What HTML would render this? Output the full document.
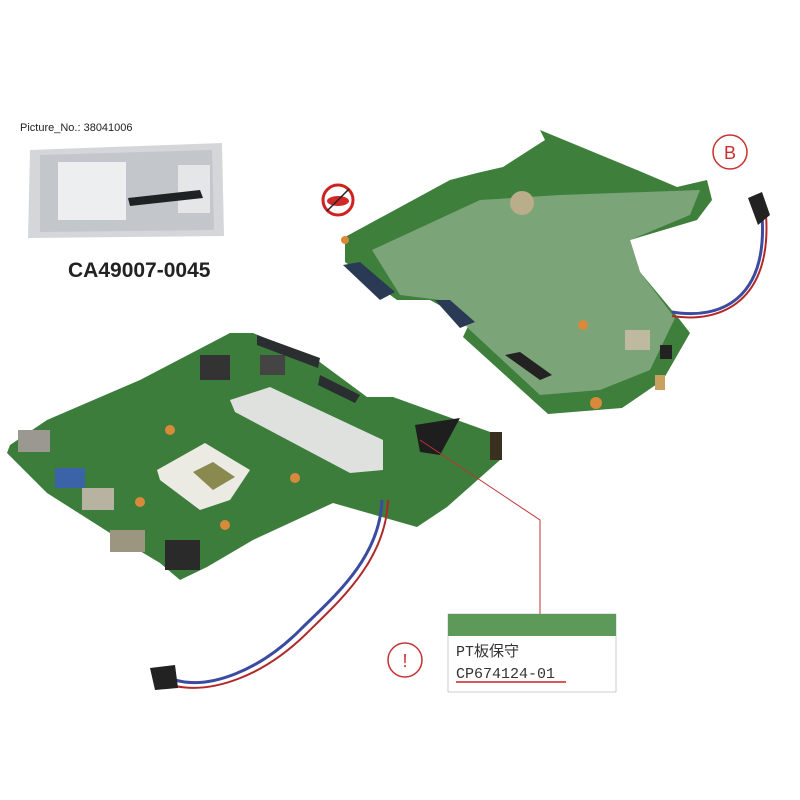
<!DOCTYPE html>
<html><head><meta charset="utf-8"><style>
html,body{margin:0;padding:0;background:#fff;width:800px;height:800px;overflow:hidden}
svg{display:block}
</style></head><body>
<svg width="800" height="800" viewBox="0 0 800 800" xmlns="http://www.w3.org/2000/svg">
<rect width="800" height="800" fill="#fff"/>
<text x="20" y="131" font-family="Liberation Sans, sans-serif" font-size="11" fill="#222">Picture_No.: 38041006</text>
<!-- bag -->
<path d="M30,150 L222,143 L224,236 L28,238 Z" fill="#d4d6d9"/>
<path d="M40,155 L212,150 L214,230 L40,232 Z" fill="#c3c6ca"/>
<rect x="58" y="162" width="68" height="58" fill="#eceef0"/>
<rect x="178" y="165" width="32" height="48" fill="#e4e6e8"/>
<path d="M128,198 L200,190 L203,198 L130,206 Z" fill="#1e2224"/>
<text x="68" y="277" font-family="Liberation Sans, sans-serif" font-size="21" font-weight="bold" fill="#222">CA49007-0045</text>
<!-- no sign -->
<circle cx="338" cy="200" r="15" fill="none" stroke="#d02020" stroke-width="3"/>
<ellipse cx="338" cy="201" rx="11" ry="5" fill="#d02828"/>
<line x1="327" y1="211" x2="349" y2="189" stroke="#222" stroke-width="1.5"/>
<!-- B circle -->
<circle cx="730" cy="152" r="17" fill="none" stroke="#c83030" stroke-width="1.5"/>
<text x="730" y="159" text-anchor="middle" font-family="Liberation Sans, sans-serif" font-size="18" fill="#c83030">B</text>
<!-- top board -->
<path d="M540,130 L637,170 L677,187 L707,180 L712,200 L697,220 L630,240 L640,272 L680,320 L690,333 L663,380 L622,408 L548,414 L463,337 L470,322 L430,300 L397,300 L345,262 L345,237 L450,180 L477,173 L503,167 L545,140 Z" fill="#3f7f3c"/>
<path d="M372,250 L480,200 L560,195 L700,190 L690,215 L630,240 L640,272 L675,318 L650,370 L600,390 L540,395 L470,330 L440,300 L400,295 Z" fill="#86aa84" opacity="0.85"/>
<circle cx="522" cy="203" r="12" fill="#b9ad8a"/>
<path d="M343,265 L360,262 L395,292 L380,300 Z" fill="#2a3a55"/>
<path d="M435,300 L450,300 L475,322 L460,328 Z" fill="#2a3a55"/>
<path d="M505,355 L520,352 L552,375 L540,380 Z" fill="#222"/>
<rect x="625" y="330" width="25" height="20" fill="#bfb9a0"/>
<rect x="660" y="345" width="12" height="14" fill="#222"/>
<rect x="655" y="375" width="10" height="15" fill="#c8a060"/>
<circle cx="583" cy="325" r="5" fill="#d88a3a"/>
<circle cx="596" cy="403" r="6" fill="#d88a3a"/>
<circle cx="345" cy="240" r="4" fill="#d88a3a"/>
<!-- top cable -->
<path d="M672,312 C720,320 768,300 762,215" fill="none" stroke="#3a4ba0" stroke-width="3"/>
<path d="M672,316 C722,324 772,300 766,215" fill="none" stroke="#b02828" stroke-width="2"/>
<path d="M748,198 L762,192 L770,215 L758,225 Z" fill="#222"/>
<!-- bottom board -->
<path d="M10,445 L47,420 L140,380 L230,333 L253,333 L317,360 L367,397 L393,397 L493,433 L500,460 L447,507 L417,527 L333,503 L253,540 L207,567 L180,580 L160,563 L110,533 L47,493 L7,453 Z" fill="#3c7d3c"/>
<path d="M230,400 L270,387 L383,440 L383,470 L350,473 L235,412 Z" fill="#dfe1df"/>
<path d="M157,470 L205,443 L250,470 L230,500 L200,510 L160,480 Z" fill="#ecebe3"/>
<path d="M193,472 L213,462 L235,477 L213,490 Z" fill="#8a8a50"/>
<rect x="200" y="355" width="30" height="25" fill="#333"/>
<rect x="260" y="355" width="25" height="20" fill="#444"/>
<path d="M257,335 L320,358 L318,368 L257,345 Z" fill="#2a2e30"/>
<path d="M320,375 L360,395 L355,403 L318,385 Z" fill="#2a2e30"/>
<path d="M415,425 L460,418 L440,455 L420,452 Z" fill="#1e1e1e"/>
<rect x="490" y="432" width="12" height="28" fill="#3a3020"/>
<rect x="18" y="430" width="32" height="22" fill="#9a9890"/>
<rect x="55" y="468" width="30" height="20" fill="#3a63a8"/>
<rect x="82" y="488" width="32" height="22" fill="#b8b2a0"/>
<rect x="110" y="530" width="35" height="22" fill="#9c9680"/>
<rect x="165" y="540" width="35" height="30" fill="#2a2a2a"/>
<circle cx="140" cy="502" r="5" fill="#d88a3a"/>
<circle cx="170" cy="430" r="5" fill="#d88a3a"/>
<circle cx="225" cy="525" r="5" fill="#d88a3a"/>
<circle cx="295" cy="478" r="5" fill="#d88a3a"/>
<!-- bottom cable -->
<path d="M382,500 C380,560 330,600 300,630 C260,670 210,690 175,680" fill="none" stroke="#3a4ba0" stroke-width="3"/>
<path d="M388,500 C386,562 336,604 306,634 C264,675 214,694 175,686" fill="none" stroke="#b02828" stroke-width="2"/>
<path d="M150,668 L175,665 L178,688 L155,690 Z" fill="#222"/>
<!-- callout -->
<polyline points="420,440 540,520 540,614" fill="none" stroke="#c03030" stroke-width="1"/>
<rect x="448" y="614" width="168" height="78" fill="#fff" stroke="#999" stroke-width="0.5"/>
<rect x="448" y="614" width="168" height="22" fill="#5d9a5a"/>
<text x="456" y="656" font-family="Liberation Mono, Noto Sans CJK JP, monospace" font-size="15" fill="#333">PT板保守</text>
<text x="456" y="678" font-family="Liberation Mono, monospace" font-size="15" fill="#333">CP674124-01</text>
<line x1="456" y1="682" x2="566" y2="682" stroke="#d02020" stroke-width="1.5"/>
<circle cx="405" cy="660" r="17" fill="none" stroke="#c83030" stroke-width="1.5"/>
<text x="405" y="667" text-anchor="middle" font-family="Liberation Sans, sans-serif" font-size="18" fill="#c83030">!</text>
</svg>
</body></html>
